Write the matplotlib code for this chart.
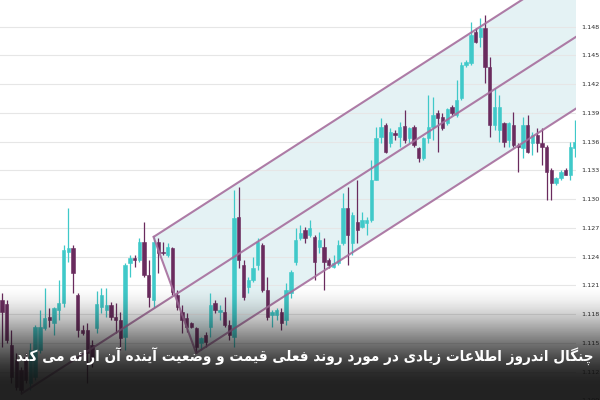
import numpy as np
import matplotlib
matplotlib.use("Agg")
import matplotlib.pyplot as plt
from matplotlib import font_manager
from matplotlib.ft2font import FT2Font

# ---------------- data (EUR/USD style candles) ----------------
opens = [1.11948, 1.11906, 1.11479, 1.11322, 1.11218, 1.11353, 1.11082, 1.11145, 1.11426, 1.11656,
         1.11771, 1.11708, 1.11844, 1.11917, 1.12449, 1.12491, 1.12000, 1.11635, 1.11635, 1.11479,
         1.11656, 1.11875, 1.11844, 1.11896, 1.11771, 1.11739, 1.11562, 1.12334, 1.12386, 1.12366,
         1.12553, 1.12209, 1.11948, 1.12553, 1.12449, 1.12418, 1.12491, 1.12000, 1.11823, 1.11760,
         1.11708, 1.11656, 1.11499, 1.11583, 1.11666, 1.11917, 1.11823, 1.11823, 1.11687, 1.11562,
         1.12814, 1.12313, 1.12084, 1.12157, 1.12313, 1.12522, 1.12052, 1.11792, 1.11792, 1.11823,
         1.11739, 1.12021, 1.12345, 1.12595, 1.12679, 1.12626, 1.12606, 1.12501, 1.12501, 1.12366,
         1.12292, 1.12334, 1.12543, 1.12908, 1.12543, 1.12762, 1.12710, 1.12752, 1.12783, 1.13200,
         1.13649, 1.13774, 1.13586, 1.13691, 1.13649, 1.13764, 1.13639, 1.13753, 1.13534, 1.13430,
         1.13639, 1.13753, 1.13899, 1.13858, 1.13795, 1.13962, 1.13879, 1.14056, 1.14400, 1.14421,
         1.14745, 1.14692, 1.14786, 1.14379, 1.13774, 1.13722, 1.13795, 1.13618, 1.13774, 1.13566,
         1.13534, 1.13774, 1.13586, 1.13670, 1.13586, 1.13545, 1.13305, 1.13169, 1.13221, 1.13305,
         1.13252, 1.13534]
highs = [1.12021, 1.11948, 1.11635, 1.11395, 1.11249, 1.11395, 1.11499, 1.11687, 1.11844, 1.12073,
         1.11865, 1.11875, 1.12157, 1.12522, 1.12908, 1.12522, 1.12021, 1.11687, 1.11708, 1.11531,
         1.12042, 1.12073, 1.12073, 1.11927, 1.11917, 1.11823, 1.12334, 1.12418, 1.12418, 1.12595,
         1.12762, 1.12366, 1.12606, 1.12595, 1.12553, 1.12543, 1.12501, 1.12052, 1.11896, 1.11812,
         1.11719, 1.11666, 1.11562, 1.11614, 1.12021, 1.11948, 1.11896, 1.11979, 1.11739, 1.13096,
         1.13127, 1.12366, 1.12188, 1.12397, 1.12595, 1.12543, 1.12188, 1.11844, 1.11865, 1.11865,
         1.12125, 1.12261, 1.12699, 1.12731, 1.12710, 1.12783, 1.12626, 1.12658, 1.12595, 1.12386,
         1.12418, 1.12574, 1.13065, 1.13127, 1.12866, 1.13200, 1.12866, 1.12814, 1.13409, 1.13753,
         1.13847, 1.13795, 1.13743, 1.13722, 1.13806, 1.13931, 1.13753, 1.13774, 1.13545, 1.13649,
         1.14087, 1.14066, 1.13931, 1.13899, 1.13952, 1.13983, 1.14244, 1.14432, 1.14452, 1.14849,
         1.14786, 1.14891, 1.14922, 1.14484, 1.14160, 1.14087, 1.13806, 1.13806, 1.13910, 1.13586,
         1.13858, 1.13879, 1.13701, 1.13743, 1.13743, 1.13566, 1.13326, 1.13232, 1.13305, 1.13326,
         1.13597, 1.13826]
lows = [1.11458, 1.11499, 1.11082, 1.11009, 1.10967, 1.11082, 1.11009, 1.11113, 1.11395, 1.11635,
        1.11666, 1.11583, 1.11739, 1.11875, 1.12345, 1.12021, 1.11562, 1.11583, 1.11082, 1.11249,
        1.11604, 1.11812, 1.11771, 1.11739, 1.11604, 1.11426, 1.11426, 1.12188, 1.12292, 1.12345,
        1.12188, 1.11875, 1.11875, 1.12230, 1.12418, 1.12397, 1.12000, 1.11844, 1.11604, 1.11614,
        1.11656, 1.11395, 1.11426, 1.11458, 1.11562, 1.11812, 1.11739, 1.11666, 1.11531, 1.11458,
        1.12282, 1.11948, 1.12021, 1.12136, 1.12261, 1.12032, 1.11739, 1.11666, 1.11739, 1.11635,
        1.11687, 1.11969, 1.12313, 1.12574, 1.12543, 1.12606, 1.12157, 1.12439, 1.12052, 1.12282,
        1.12282, 1.12313, 1.12522, 1.12313, 1.12418, 1.12543, 1.12699, 1.12626, 1.12762, 1.13200,
        1.13586, 1.13482, 1.13545, 1.13618, 1.13545, 1.13586, 1.13586, 1.13545, 1.13388, 1.13409,
        1.13586, 1.13618, 1.13492, 1.13722, 1.13774, 1.13879, 1.13858, 1.14035, 1.14379, 1.14400,
        1.14630, 1.14588, 1.14212, 1.13649, 1.13722, 1.13597, 1.13545, 1.13545, 1.13545, 1.13284,
        1.13430, 1.13482, 1.13461, 1.13492, 1.13357, 1.12992, 1.12992, 1.13148, 1.13200, 1.13252,
        1.13200, 1.13440]
closes = [1.11823, 1.11531, 1.11145, 1.11040, 1.11009, 1.11113, 1.11426, 1.11666, 1.11666, 1.11760,
          1.11739, 1.11865, 1.11917, 1.12470, 1.12491, 1.12230, 1.11635, 1.11604, 1.11395, 1.11322,
          1.11906, 1.12000, 1.11896, 1.11771, 1.11739, 1.11552, 1.12313, 1.12386, 1.12366, 1.12553,
          1.12209, 1.11979, 1.12553, 1.12439, 1.12439, 1.12501, 1.12032, 1.11875, 1.11739, 1.11666,
          1.11666, 1.11458, 1.11552, 1.11510, 1.11896, 1.11844, 1.11844, 1.11687, 1.11583, 1.12804,
          1.12366, 1.11979, 1.12157, 1.12282, 1.12553, 1.12052, 1.11771, 1.11823, 1.11844, 1.11708,
          1.12052, 1.12240, 1.12574, 1.12647, 1.12595, 1.12699, 1.12345, 1.12574, 1.12345, 1.12313,
          1.12334, 1.12522, 1.12908, 1.12626, 1.12835, 1.12679, 1.12783, 1.12783, 1.13200, 1.13639,
          1.13753, 1.13492, 1.13701, 1.13670, 1.13753, 1.13618, 1.13743, 1.13566, 1.13430, 1.13639,
          1.13753, 1.13879, 1.13847, 1.13743, 1.13941, 1.13899, 1.14035, 1.14400, 1.14432, 1.14713,
          1.14640, 1.14786, 1.14379, 1.13774, 1.13962, 1.13962, 1.13597, 1.13795, 1.13566, 1.13545,
          1.13774, 1.13492, 1.13670, 1.13586, 1.13545, 1.13284, 1.13169, 1.13221, 1.13284, 1.13252,
          1.13545, 1.13597]

# Andrews' pitchfork pivots: (candle index, which price)
pivot_index = [4, 32, 41]
pivot_kind = ["low", "high", "low"]

tick_values = [1.109, 1.112, 1.115, 1.118, 1.121, 1.124, 1.127, 1.130,
               1.133, 1.136, 1.139, 1.142, 1.145, 1.148, 1.151]

caption = "چنگال اندروز اطلاعات زیادی در مورد روند فعلی قیمت و وضعیت آینده آن ارائه می کند"

# ---------------- styles ----------------
UP = "#3fc9c9"
DOWN = "#6a2b5e"
FORK = "#a66e9d"
FILL = "#e4f2f4"
GRID = "#e6e6e6"

# ---------------- simple Persian shaping (presentation forms) ----------------
FORMS = {
    "\u0622": ("\uFE81", "\uFE82", None, None),
    "\u0626": ("\uFE89", "\uFE8A", "\uFE8B", "\uFE8C"),
    "\u0627": ("\uFE8D", "\uFE8E", None, None),
    "\u062A": ("\uFE95", "\uFE96", "\uFE97", "\uFE98"),
    "\u0686": ("\uFB7A", "\uFB7B", "\uFB7C", "\uFB7D"),
    "\u062F": ("\uFEA9", "\uFEAA", None, None),
    "\u0631": ("\uFEAD", "\uFEAE", None, None),
    "\u0632": ("\uFEAF", "\uFEB0", None, None),
    "\u0636": ("\uFEBD", "\uFEBE", "\uFEBF", "\uFEC0"),
    "\u0637": ("\uFEC1", "\uFEC2", "\uFEC3", "\uFEC4"),
    "\u0639": ("\uFEC9", "\uFECA", "\uFECB", "\uFECC"),
    "\u0641": ("\uFED1", "\uFED2", "\uFED3", "\uFED4"),
    "\u0642": ("\uFED5", "\uFED6", "\uFED7", "\uFED8"),
    "\u06A9": ("\uFB8E", "\uFB8F", "\uFB90", "\uFB91"),
    "\u06AF": ("\uFB92", "\uFB93", "\uFB94", "\uFB95"),
    "\u0644": ("\uFEDD", "\uFEDE", "\uFEDF", "\uFEE0"),
    "\u0645": ("\uFEE1", "\uFEE2", "\uFEE3", "\uFEE4"),
    "\u0646": ("\uFEE5", "\uFEE6", "\uFEE7", "\uFEE8"),
    "\u0647": ("\uFEE9", "\uFEEA", "\uFEEB", "\uFEEC"),
    "\u0648": ("\uFEED", "\uFEEE", None, None),
    "\u06CC": ("\uFBFC", "\uFBFD", "\uFBFE", "\uFBFF"),
}
LAM_ALEF = {"\u0627": ("\uFEFB", "\uFEFC"), "\u0622": ("\uFEF5", "\uFEF6")}


def shape_rtl(text):
    text = text.replace("\u064A", "\u06CC").replace("\u0643", "\u06A9")
    ch = list(text)
    n = len(ch)
    res = []

    def dual(c):
        return c in FORMS and FORMS[c][2] is not None

    i = 0
    while i < n:
        c = ch[i]
        prev_joins = i > 0 and dual(ch[i - 1])
        if c == "\u0644" and i + 1 < n and ch[i + 1] in LAM_ALEF:
            lig = LAM_ALEF[ch[i + 1]]
            res.append(lig[1] if prev_joins else lig[0])
            i += 2
            continue
        if c in FORMS:
            f = FORMS[c]
            nxt = ch[i + 1] if i + 1 < n else None
            next_joins = nxt is not None and nxt in FORMS and f[2] is not None
            if prev_joins and next_joins:
                g = f[3]
            elif prev_joins:
                g = f[1]
            elif next_joins:
                g = f[2]
            else:
                g = f[0]
            res.append(g)
        else:
            res.append(c)
        i += 1
    return "".join(reversed(res))


shaped = shape_rtl(caption)

# choose a condensed bold DejaVu face if it really has the needed glyphs
cap_stretch = "normal"
try:
    fp = font_manager.FontProperties(family="DejaVu Sans", weight="bold", stretch="condensed")
    path = font_manager.findfont(fp, fallback_to_default=False)
    if "ondensed" in path:
        cmap = FT2Font(path).get_charmap()
        if all((ord(ch) in cmap) for ch in shaped if ch != " "):
            cap_stretch = "condensed"
except Exception:
    cap_stretch = "normal"

# ---------------- figure ----------------
fig = plt.figure(figsize=(6, 4), dpi=100)
fig.patch.set_facecolor("white")

ymin, ymax = 1.109, 1.151
ax = fig.add_axes([0.0, -0.0011, 0.96, 1.0063])
ax.set_facecolor("white")
n = len(opens)
x = np.arange(n)
ax.set_xlim(-0.42, 121.2)
ax.set_ylim(ymin, ymax)

# grid + right-hand price labels
ax.set_yticks(tick_values)
ax.set_yticklabels([f"{v:.3f}" for v in tick_values])
ax.yaxis.tick_right()
ax.tick_params(axis="y", length=0, pad=3.8, labelsize=4.6, labelcolor="#2b2b2b")
ax.set_xticks([])
for s in ax.spines.values():
    s.set_visible(False)
ax.grid(axis="y", color=GRID, linewidth=0.8, zorder=1)
ax.set_axisbelow(False)

# pitchfork
pts = []
for idx, kind in zip(pivot_index, pivot_kind):
    pts.append((idx, lows[idx] if kind == "low" else highs[idx]))
(x1, y1), (x2, y2), (x3, y3) = pts
mx, my = (x2 + x3) / 2.0, (y2 + y3) / 2.0
slope = (my - y1) / (mx - x1)
xe = 123.0
ax.fill([x2, xe, xe, x3],
        [y2, y2 + slope * (xe - x2), y3 + slope * (xe - x3), y3],
        color=FILL, zorder=0.5, linewidth=0)
for (xa, ya) in [(x1, y1), (x2, y2), (x3, y3)]:
    ax.plot([xa, xe], [ya, ya + slope * (xe - xa)], color=FORK, lw=1.5, zorder=4,
            alpha=0.9, solid_capstyle="butt")
ax.plot([x2, x3], [y2, y3], color=FORK, lw=1.5, zorder=4, alpha=0.9)

# candles
o = np.array(opens)
h = np.array(highs)
l = np.array(lows)
c = np.array(closes)
cols = [UP if cc >= oo else DOWN for oo, cc in zip(o, c)]
ax.vlines(x, l, h, colors=cols, linewidth=0.9, zorder=3)
ax.bar(x, np.abs(c - o), bottom=np.minimum(o, c), width=0.7, color=cols,
       edgecolor=cols, linewidth=0.4, zorder=3.2)

# dark gradient overlay at the bottom
ov = fig.add_axes([0, 0, 1, 1], zorder=5)
ov.set_axis_off()
rows = 400
yy = np.arange(rows)
t = np.clip((yy - 283) / (385 - 283), 0, 1)
alpha = 0.93 * (3 * t ** 2 - 2 * t ** 3)
img = np.zeros((rows, 1, 4))
img[:, 0, 0:3] = 0.07
img[:, 0, 3] = alpha
ov.imshow(img, aspect="auto", extent=[0, 1, 0, 1], interpolation="bilinear")
ov.set_xlim(0, 1)
ov.set_ylim(0, 1)

cap = fig.text(0.5083, 1 - 357 / 400, shaped, color="white", fontsize=12.5,
               fontweight="bold", family=["DejaVu Sans"], fontstretch=cap_stretch,
               ha="center", va="center", zorder=10)
# fit caption to the width it takes in the reference (about 582 px)
fig.canvas.draw()
w = cap.get_window_extent(fig.canvas.get_renderer()).width
cap.set_fontsize(min(15.0, 12.5 * 580.0 / w))

fig.savefig("out.png", dpi=100)
